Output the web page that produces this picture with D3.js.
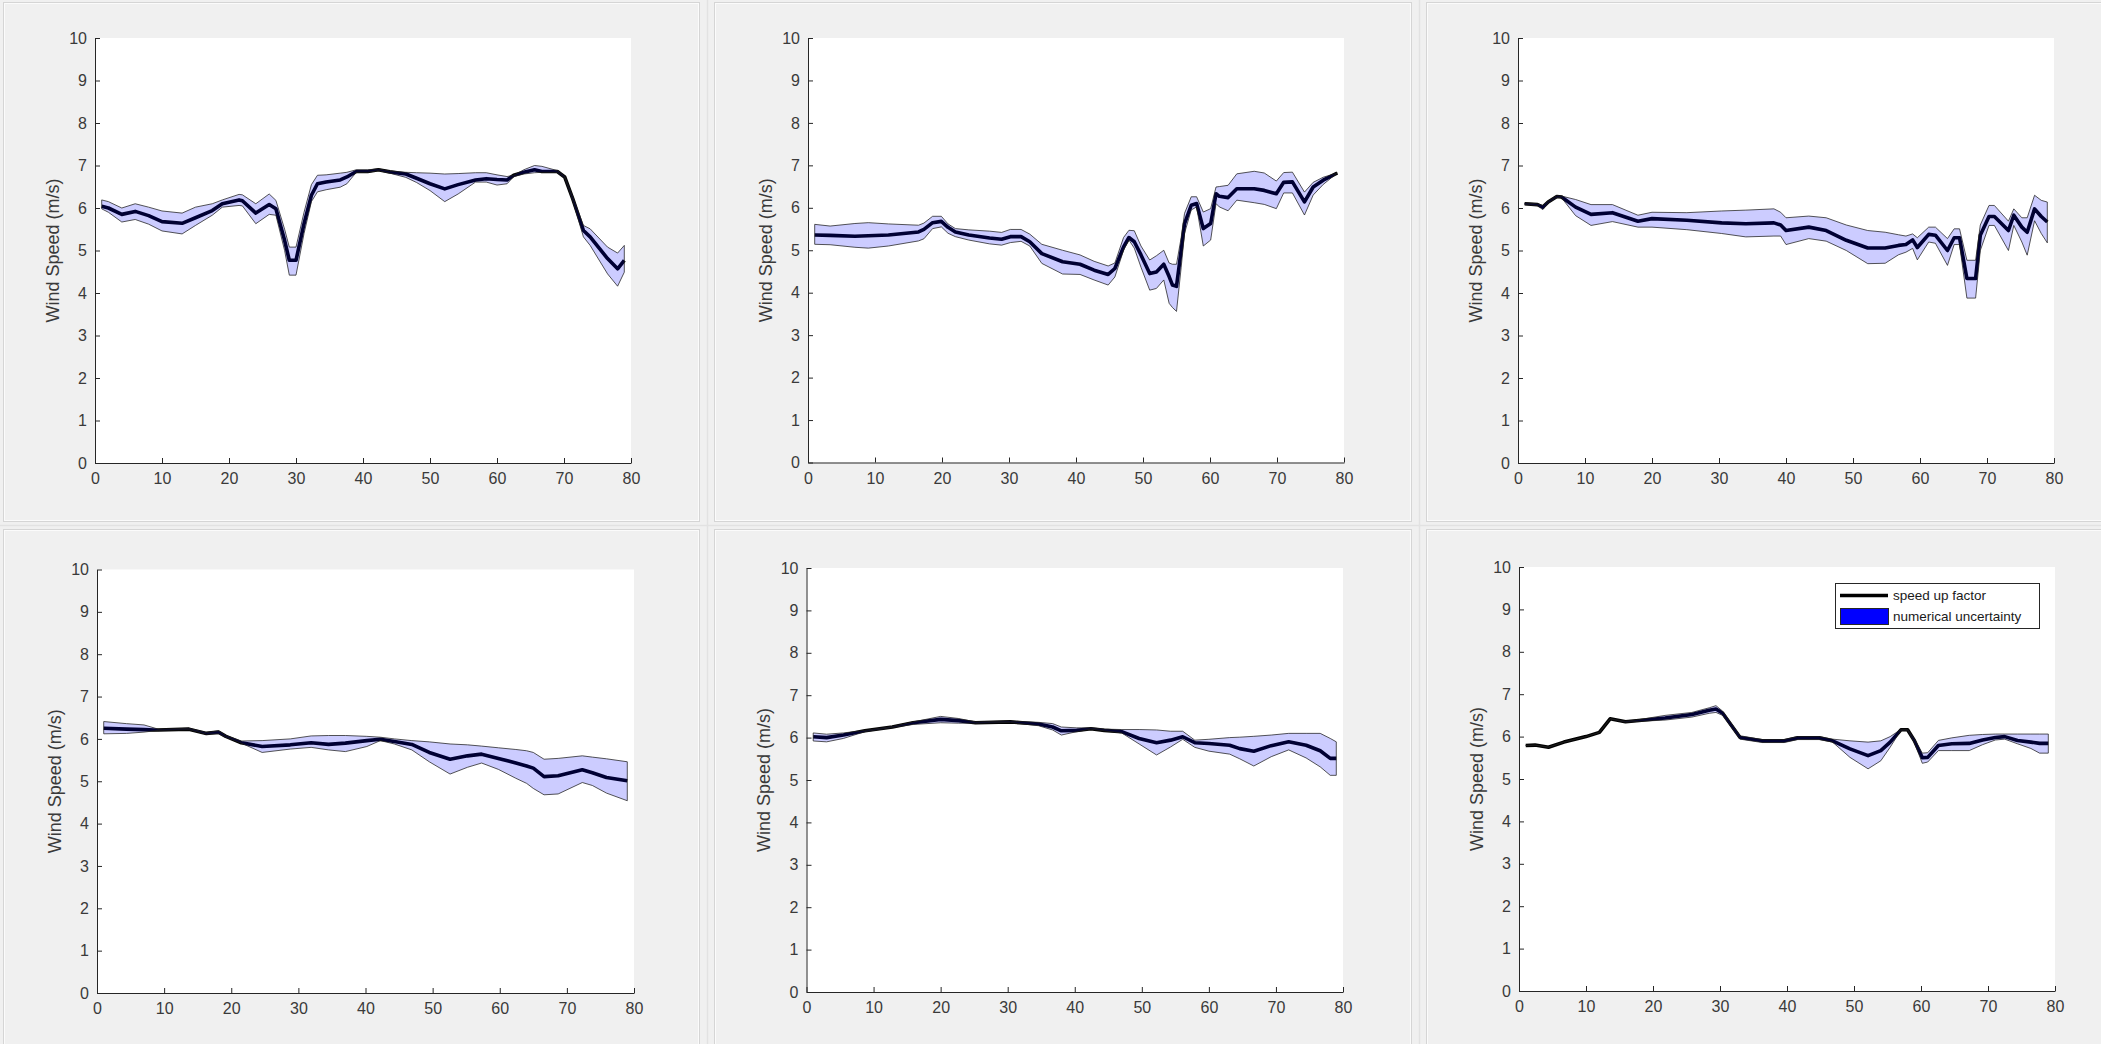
<!DOCTYPE html>
<html>
<head>
<meta charset="utf-8">
<script src="https://cdn.jsdelivr.net/npm/d3@7/dist/d3.min.js"></script>
<style>
  html, body { margin: 0; padding: 0; background: #f0f0f0; }
  svg { display: block; }
  .tick text { font-family: "Liberation Sans", Arial, sans-serif; }
</style>
</head>
<body>
<svg id="fig" width="2101" height="1044"></svg>
<script>
// panel 1 (top left)
var p1X    = [1, 2, 4, 6, 8, 10, 13, 15, 17.5, 19, 21.5, 22, 24, 26, 27, 28.3, 29, 30, 31.2, 32.3, 33.2, 34.5, 36.6, 37.6, 39, 40.7, 42.3, 44, 46.4, 48, 50, 52.2, 54.2, 56.8, 58.4, 60, 61.5, 62.5, 64, 65.6, 66.7, 69, 70.1, 71.3, 72.9, 73.9, 76.5, 78, 79];
var p1Mean = [6.04, 6.0, 5.85, 5.92, 5.82, 5.68, 5.64, 5.77, 5.94, 6.1, 6.19, 6.17, 5.88, 6.08, 5.98, 5.24, 4.77, 4.77, 5.63, 6.3, 6.57, 6.61, 6.66, 6.73, 6.86, 6.86, 6.9, 6.85, 6.8, 6.7, 6.57, 6.45, 6.55, 6.66, 6.69, 6.67, 6.66, 6.77, 6.84, 6.9, 6.86, 6.86, 6.73, 6.22, 5.47, 5.32, 4.81, 4.57, 4.77];
var p1Hi   = [6.19, 6.15, 6.0, 6.1, 6.02, 5.93, 5.88, 6.02, 6.1, 6.19, 6.32, 6.31, 6.1, 6.33, 6.18, 5.5, 5.08, 5.08, 5.9, 6.55, 6.77, 6.78, 6.82, 6.84, 6.9, 6.9, 6.92, 6.87, 6.84, 6.83, 6.82, 6.8, 6.81, 6.83, 6.83, 6.78, 6.74, 6.77, 6.9, 7.0, 6.98, 6.88, 6.75, 6.27, 5.59, 5.51, 5.08, 4.94, 5.12];
var p1Lo   = [5.98, 5.9, 5.67, 5.73, 5.62, 5.46, 5.39, 5.59, 5.83, 6.02, 6.06, 6.05, 5.63, 5.85, 5.83, 5.0, 4.42, 4.42, 5.4, 6.15, 6.38, 6.43, 6.49, 6.57, 6.84, 6.84, 6.88, 6.82, 6.72, 6.6, 6.41, 6.15, 6.33, 6.61, 6.61, 6.54, 6.57, 6.74, 6.8, 6.83, 6.84, 6.84, 6.71, 6.17, 5.32, 5.12, 4.45, 4.16, 4.49];

// panel 2 (top middle)
var p2X    = [1, 3.3, 7, 9, 12, 16.5, 17.3, 18.6, 19.9, 20.9, 22, 24, 27.1, 28.9, 30.2, 31.8, 33.1, 34.9, 38, 40.6, 42.7, 44.8, 45.8, 47.1, 47.9, 48.7, 49.7, 51, 52, 53.1, 53.9, 54.4, 55, 55.7, 56.2, 57.2, 58, 59, 60.1, 60.9, 61.4, 62.7, 64, 66.6, 68.1, 69.9, 71, 72.3, 74.1, 75.4, 76.9, 79];
var p2Mean = [5.36, 5.35, 5.33, 5.34, 5.36, 5.43, 5.49, 5.65, 5.68, 5.54, 5.43, 5.36, 5.29, 5.26, 5.32, 5.32, 5.2, 4.92, 4.73, 4.67, 4.53, 4.43, 4.57, 5.08, 5.3, 5.2, 4.89, 4.45, 4.49, 4.67, 4.38, 4.18, 4.15, 5.0, 5.63, 6.06, 6.1, 5.51, 5.63, 6.33, 6.27, 6.24, 6.45, 6.45, 6.41, 6.33, 6.6, 6.61, 6.14, 6.49, 6.65, 6.82];
var p2Hi   = [5.61, 5.57, 5.63, 5.65, 5.62, 5.59, 5.64, 5.8, 5.8, 5.62, 5.51, 5.48, 5.45, 5.42, 5.49, 5.49, 5.38, 5.14, 5.0, 4.89, 4.74, 4.63, 4.7, 5.3, 5.47, 5.46, 5.1, 4.77, 4.87, 5.0, 4.7, 4.67, 4.67, 5.3, 5.87, 6.26, 6.26, 5.9, 5.98, 6.49, 6.5, 6.53, 6.8, 6.86, 6.82, 6.63, 6.83, 6.84, 6.37, 6.6, 6.72, 6.82];
var p2Lo   = [5.14, 5.13, 5.07, 5.05, 5.1, 5.22, 5.27, 5.51, 5.55, 5.4, 5.32, 5.24, 5.15, 5.12, 5.18, 5.21, 5.1, 4.69, 4.44, 4.43, 4.3, 4.18, 4.37, 5.0, 5.24, 5.05, 4.6, 4.06, 4.1, 4.3, 3.75, 3.65, 3.56, 4.6, 5.4, 5.95, 6.02, 5.1, 5.24, 6.1, 6.02, 5.93, 6.18, 6.12, 6.08, 5.98, 6.35, 6.35, 5.83, 6.3, 6.55, 6.82];

// panel 3 (top right)
var p3X    = [1, 2.9, 3.7, 4.5, 5.8, 6.5, 8.6, 10.9, 14.1, 17.9, 20, 25.2, 30.4, 34, 38.2, 39.2, 40, 43.4, 46, 49, 52.2, 54.8, 56.8, 57.9, 58.9, 59.6, 61.3, 62.3, 64.1, 65.1, 65.9, 67, 68.3, 69, 70.3, 71.1, 73.2, 74, 75.2, 76, 77.1, 78.1, 79];
var p3Mean = [6.1, 6.08, 6.02, 6.14, 6.27, 6.26, 6.02, 5.85, 5.89, 5.69, 5.75, 5.71, 5.65, 5.63, 5.65, 5.6, 5.47, 5.55, 5.47, 5.24, 5.06, 5.06, 5.12, 5.14, 5.25, 5.07, 5.38, 5.36, 5.0, 5.3, 5.3, 4.34, 4.34, 5.36, 5.8, 5.8, 5.47, 5.83, 5.55, 5.43, 5.98, 5.8, 5.67];
var p3Hi   = [6.12, 6.1, 6.06, 6.16, 6.29, 6.28, 6.2, 6.08, 6.08, 5.83, 5.9, 5.89, 5.93, 5.95, 5.98, 5.9, 5.77, 5.81, 5.77, 5.6, 5.47, 5.43, 5.37, 5.34, 5.39, 5.3, 5.55, 5.55, 5.28, 5.51, 5.51, 4.77, 4.77, 5.6, 6.06, 6.06, 5.69, 5.98, 5.77, 5.77, 6.3, 6.18, 6.14];
var p3Lo   = [6.08, 6.06, 5.96, 6.12, 6.25, 6.24, 5.82, 5.59, 5.68, 5.55, 5.55, 5.49, 5.4, 5.32, 5.34, 5.34, 5.14, 5.28, 5.22, 5.0, 4.69, 4.7, 4.9, 4.96, 5.05, 4.78, 5.2, 5.17, 4.65, 5.14, 5.14, 3.88, 3.88, 5.0, 5.59, 5.59, 5.0, 5.59, 5.2, 4.89, 5.7, 5.4, 5.18];

// panel 4 (bottom left)
var p4X    = [1, 4.4, 7, 8.5, 9.1, 13.7, 16.3, 18.1, 19.2, 21.5, 24.6, 28.8, 31.9, 34.5, 37, 40.2, 42.2, 44.3, 46.9, 49.5, 52.6, 55.2, 57.3, 59.8, 62.4, 64, 65, 66.6, 68.7, 72.3, 73.8, 75.9, 79];
var p4Mean = [6.25, 6.23, 6.22, 6.21, 6.21, 6.23, 6.13, 6.16, 6.06, 5.91, 5.82, 5.86, 5.91, 5.87, 5.9, 5.96, 5.99, 5.94, 5.87, 5.68, 5.52, 5.6, 5.64, 5.54, 5.43, 5.36, 5.31, 5.11, 5.13, 5.27, 5.2, 5.09, 5.01];
var p4Hi   = [6.41, 6.36, 6.33, 6.26, 6.23, 6.25, 6.15, 6.19, 6.08, 5.95, 5.96, 6.0, 6.07, 6.08, 6.08, 6.06, 6.04, 6.0, 5.96, 5.93, 5.88, 5.86, 5.83, 5.79, 5.75, 5.72, 5.68, 5.52, 5.54, 5.6, 5.57, 5.53, 5.46];
var p4Lo   = [6.12, 6.13, 6.16, 6.19, 6.2, 6.22, 6.11, 6.12, 6.04, 5.9, 5.68, 5.76, 5.8, 5.74, 5.7, 5.82, 5.96, 5.88, 5.74, 5.46, 5.17, 5.33, 5.43, 5.28, 5.07, 4.95, 4.83, 4.68, 4.7, 4.97, 4.9, 4.72, 4.54];

// panel 5 (bottom middle)
var p5X    = [1, 3, 5.5, 8.7, 12.8, 15.9, 20, 22.7, 25.2, 30.4, 34.6, 36.7, 38, 40.3, 42.4, 44.4, 47, 49.6, 52.2, 54.3, 56.1, 57.9, 60, 63.1, 64.6, 66.7, 69.3, 71.9, 74.5, 76.6, 78.1, 79];
var p5Mean = [6.02, 6.0, 6.06, 6.16, 6.25, 6.35, 6.43, 6.4, 6.35, 6.37, 6.32, 6.25, 6.16, 6.17, 6.21, 6.17, 6.14, 5.98, 5.88, 5.94, 6.02, 5.88, 5.86, 5.82, 5.74, 5.68, 5.81, 5.9, 5.82, 5.69, 5.51, 5.51];
var p5Hi   = [6.11, 6.08, 6.11, 6.17, 6.26, 6.37, 6.5, 6.45, 6.37, 6.39, 6.36, 6.33, 6.25, 6.23, 6.23, 6.2, 6.19, 6.19, 6.18, 6.15, 6.15, 5.94, 5.96, 6.0, 6.01, 6.03, 6.06, 6.1, 6.1, 6.1, 5.98, 5.9];
var p5Lo   = [5.92, 5.9, 5.98, 6.14, 6.24, 6.31, 6.35, 6.34, 6.34, 6.36, 6.28, 6.18, 6.06, 6.14, 6.2, 6.16, 6.11, 5.85, 5.59, 5.78, 5.96, 5.77, 5.68, 5.61, 5.5, 5.33, 5.55, 5.71, 5.52, 5.31, 5.11, 5.11];

// panel 6 (bottom right, with legend)
var p6X    = [1, 2.4, 4.4, 6.7, 10, 12, 13.6, 15.9, 17.9, 21.8, 25.8, 28.4, 29.4, 30.4, 33, 36.3, 39.6, 41.6, 44.8, 46.8, 49.4, 52.1, 54, 55.4, 57, 58, 59, 60.2, 61, 62.6, 64.6, 67.2, 69.2, 71.1, 72.5, 74.4, 76.4, 77.7, 79];
var p6Mean = [5.79, 5.8, 5.75, 5.87, 6.0, 6.1, 6.42, 6.35, 6.38, 6.44, 6.52, 6.62, 6.65, 6.55, 5.98, 5.9, 5.9, 5.97, 5.97, 5.9, 5.71, 5.55, 5.67, 5.87, 6.16, 6.16, 5.91, 5.5, 5.51, 5.79, 5.83, 5.84, 5.92, 5.98, 6.0, 5.91, 5.87, 5.84, 5.84];
var p6Hi   = [5.79, 5.8, 5.75, 5.87, 6.0, 6.1, 6.42, 6.36, 6.4, 6.5, 6.57, 6.68, 6.73, 6.6, 6.02, 5.93, 5.93, 6.0, 6.0, 5.94, 5.9, 5.87, 5.9, 6.0, 6.17, 6.17, 5.95, 5.61, 5.62, 5.91, 5.97, 6.03, 6.05, 6.06, 6.06, 6.06, 6.06, 6.06, 6.06];
var p6Lo   = [5.79, 5.8, 5.75, 5.87, 6.0, 6.1, 6.42, 6.34, 6.36, 6.39, 6.46, 6.55, 6.57, 6.5, 5.94, 5.86, 5.86, 5.93, 5.93, 5.87, 5.51, 5.24, 5.43, 5.75, 6.15, 6.15, 5.86, 5.37, 5.4, 5.67, 5.67, 5.67, 5.81, 5.92, 5.94, 5.83, 5.72, 5.61, 5.61];

var xTicks = [0, 10, 20, 30, 40, 50, 60, 70, 80];
var yTicks = [0, 1, 2, 3, 4, 5, 6, 7, 8, 9, 10];
var yLabel = 'Wind Speed (m/s)';
var legendLabels = ['speed up factor', 'numerical uncertainty'];

var svg = d3.select('#fig');
var font = '"Liberation Sans", Arial, sans-serif';

// figure panels (frame box + plot box)
var panels = [
    { frame: [3, 2, 696, 519],     plot: [95, 38, 536, 425],    x: p1X, mean: p1Mean, lo: p1Lo, hi: p1Hi },
    { frame: [714, 2, 697, 519],   plot: [808, 38, 536, 424.5], x: p2X, mean: p2Mean, lo: p2Lo, hi: p2Hi },
    { frame: [1426, 2, 680, 519],  plot: [1518, 38, 536, 425],  x: p3X, mean: p3Mean, lo: p3Lo, hi: p3Hi },
    { frame: [3, 529, 696, 520],   plot: [97, 569.5, 537, 423.5], x: p4X, mean: p4Mean, lo: p4Lo, hi: p4Hi },
    { frame: [714, 529, 697, 520], plot: [806.5, 568, 536.5, 424], x: p5X, mean: p5Mean, lo: p5Lo, hi: p5Hi },
    { frame: [1426, 529, 680, 520], plot: [1519, 567, 536, 424], x: p6X, mean: p6Mean, lo: p6Lo, hi: p6Hi, legend: true }
];

// etched separators between panels
svg.append('line').attr('x1', 707.5).attr('x2', 707.5).attr('y1', 0).attr('y2', 1044)
    .attr('stroke', '#e2e2e2').attr('stroke-width', 1.5);
svg.append('line').attr('x1', 1419.5).attr('x2', 1419.5).attr('y1', 0).attr('y2', 1044)
    .attr('stroke', '#e2e2e2').attr('stroke-width', 1.5);
svg.append('line').attr('x1', 0).attr('x2', 2101).attr('y1', 525.5).attr('y2', 525.5)
    .attr('stroke', '#e2e2e2').attr('stroke-width', 1.5);

panels.forEach(function (p) {
    var g = svg.append('g');
    var f = p.frame;
    g.append('rect')
        .attr('x', f[0] + 0.5).attr('y', f[1] + 0.5)
        .attr('width', f[2]).attr('height', f[3])
        .attr('fill', '#f0f0f0').attr('stroke', '#d5d5d5').attr('stroke-width', 1);
    g.append('rect')
        .attr('x', f[0] + 1.5).attr('y', f[1] + 1.5)
        .attr('width', f[2] - 2).attr('height', f[3] - 2)
        .attr('fill', 'none').attr('stroke', '#fbfbfb').attr('stroke-width', 1);

    var b = p.plot,
        left = b[0], top = b[1], w = b[2], h = b[3];

    var x = d3.scaleLinear().domain([0, 80]).range([left, left + w]),
        y = d3.scaleLinear().domain([0, 10]).range([top + h, top]);

    // white axes background
    g.append('rect')
        .attr('x', left).attr('y', top)
        .attr('width', w).attr('height', h)
        .attr('fill', '#ffffff');

    var rows = p.x.map(function (d, i) {
        return { x: d, m: p.mean[i], lo: p.lo[i], hi: p.hi[i] };
    });

    var line = d3.line()
        .x(function (d) { return x(d.x); })
        .y(function (d) { return y(d.m); });

    var area = d3.area()
        .x(function (d) { return x(d.x); })
        .y0(function (d) { return y(d.lo); })
        .y1(function (d) { return y(d.hi); });

    // mean line first, then the translucent band on top of it
    g.append('path')
        .datum(rows)
        .attr('d', line)
        .attr('fill', 'none')
        .attr('stroke', '#000000')
        .attr('stroke-width', 3.6)
        .attr('stroke-linejoin', 'round');

    g.append('path')
        .attr('d', area(rows))
        .attr('fill', 'rgba(0,0,255,0.2)')
        .attr('stroke', 'rgba(30,30,30,0.75)')
        .attr('stroke-width', 1)
        .attr('stroke-linejoin', 'round');

    // axes, ticks pointing inward like MATLAB
    var xAxis = d3.axisBottom(x).tickValues(xTicks).tickSizeInner(-5).tickSizeOuter(0).tickPadding(10);
    var yAxis = d3.axisLeft(y).tickValues(yTicks).tickSizeInner(-5).tickSizeOuter(0).tickPadding(8);

    var gx = g.append('g').attr('transform', 'translate(0,' + (top + h) + ')').call(xAxis);
    var gy = g.append('g').attr('transform', 'translate(' + left + ',0)').call(yAxis);

    [gx, gy].forEach(function (ax) {
        ax.select('.domain').attr('stroke', '#262626').attr('stroke-width', 1);
        ax.selectAll('.tick line').attr('stroke', '#262626');
        ax.selectAll('.tick text')
            .attr('fill', '#3a3a3a')
            .style('font-family', font)
            .style('font-size', '16px');
    });

    g.append('text')
        .attr('transform', 'translate(' + (left - 41) + ',' + (top + h / 2) + ') rotate(-90)')
        .attr('text-anchor', 'middle')
        .attr('dominant-baseline', 'middle')
        .attr('fill', '#3a3a3a')
        .style('font-family', font)
        .style('font-size', '18px')
        .text(yLabel);

    if (p.legend) {
        var lx = 1835, ly = 583, lw = 204, lh = 45;
        var lg = g.append('g');
        lg.append('rect')
            .attr('x', lx + 0.5).attr('y', ly + 0.5)
            .attr('width', lw).attr('height', lh)
            .attr('fill', '#ffffff').attr('stroke', '#262626').attr('stroke-width', 1);
        lg.append('line')
            .attr('x1', lx + 5).attr('x2', lx + 53)
            .attr('y1', ly + 12.5).attr('y2', ly + 12.5)
            .attr('stroke', '#000').attr('stroke-width', 3.6);
        lg.append('rect')
            .attr('x', lx + 5.5).attr('y', ly + 25.5)
            .attr('width', 48).attr('height', 16)
            .attr('fill', '#0000ff').attr('stroke', '#262626').attr('stroke-width', 1);
        lg.selectAll('text.leg')
            .data(legendLabels).enter()
            .append('text')
            .attr('class', 'leg')
            .attr('x', lx + 58)
            .attr('y', function (d, i) { return ly + 13 + i * 21; })
            .attr('dominant-baseline', 'middle')
            .attr('fill', '#1a1a1a')
            .style('font-family', font)
            .style('font-size', '13.5px')
            .text(function (d) { return d; });
    }
});
</script>
</body>
</html>
